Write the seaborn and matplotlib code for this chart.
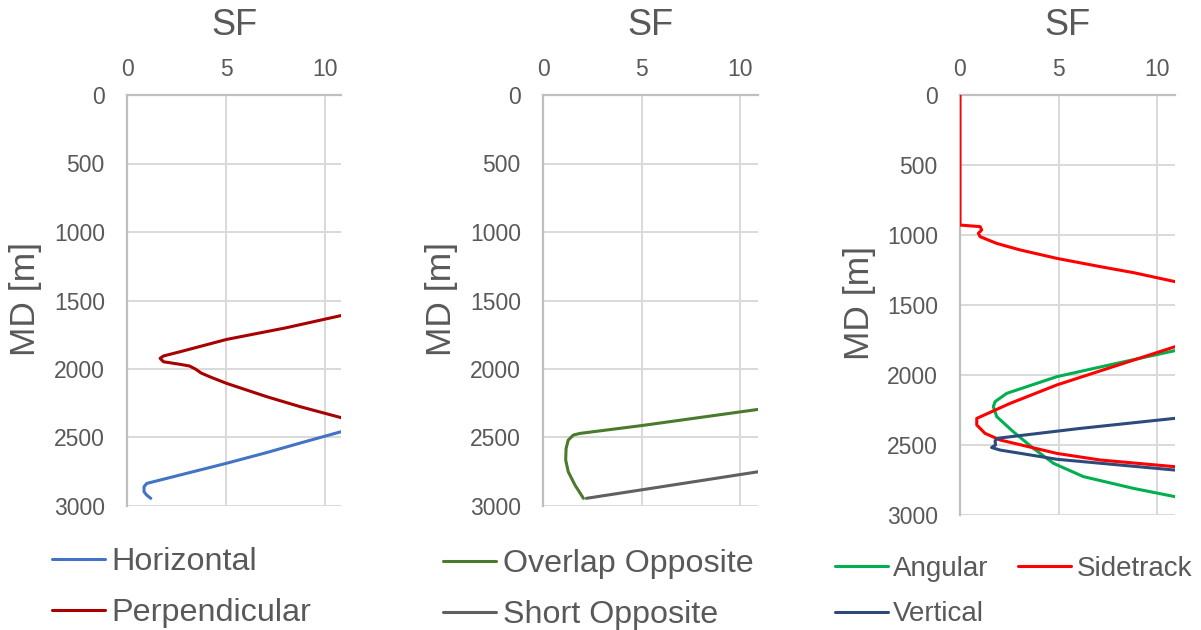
import matplotlib
matplotlib.use("Agg")
import matplotlib.pyplot as plt
import seaborn as sns

# ---- Safety factor (SF) versus measured depth (MD) per well-pair scenario ----
# Horizontal
horizontal_sf = [11.0, 9.0, 7.0, 5.0, 3.0, 1.33, 1.0, 0.86, 0.86, 0.99, 1.2]
horizontal_md = [2450, 2530, 2612, 2689, 2762, 2823, 2835, 2859, 2896, 2920, 2944]
# Perpendicular
perpendicular_sf = [11.0, 10.93, 8.0, 5.03, 2.68, 1.84, 1.67, 1.84, 2.68, 3.15,
                    3.45, 3.75, 4.2, 5.03, 7.05, 8.74, 10.93, 11.0]
perpendicular_md = [1603, 1606, 1700, 1784, 1874, 1905, 1922, 1947, 1966, 1978,
                    2000, 2030, 2058, 2105, 2202, 2275, 2360, 2364]
# Overlap Opposite
overlap_sf = [11.0, 5.0, 1.88, 1.54, 1.28, 1.17, 1.15, 1.28, 1.62, 2.05]
overlap_md = [2293, 2413, 2470, 2482, 2519, 2580, 2664, 2750, 2847, 2944]
# Short Opposite
short_sf = [2.2, 5.0, 8.0, 11.0]
short_md = [2944, 2882, 2815, 2748]
# Angular
angular_sf = [11.0, 10.9, 8.0, 4.91, 2.37, 1.78, 1.69, 1.86, 2.7, 3.72, 4.74,
              6.26, 8.8, 10.9, 11.0]
angular_md = [1823, 1826, 1915, 2012, 2131, 2190, 2226, 2297, 2405, 2524, 2631,
              2726, 2810, 2869, 2872]
# Sidetrack (leaves the plotted SF range between about 1340 m and 1790 m)
sidetrack_upper_sf = [0.0, 0.0, 1.02, 1.1, 0.93, 1.02, 1.86, 3.0, 4.91, 7.11,
                      8.8, 10.9, 11.2]
sidetrack_upper_md = [0, 929, 940, 964, 988, 1012, 1060, 1105, 1167, 1226,
                      1269, 1333, 1340]
sidetrack_lower_sf = [11.2, 10.9, 8.0, 4.91, 2.5, 0.85, 0.85, 1.27, 2.03, 4.91,
                      7.1, 10.9, 11.2]
sidetrack_lower_md = [1790, 1798, 1930, 2071, 2205, 2310, 2357, 2417, 2464,
                      2560, 2607, 2655, 2660]
# Vertical
vertical_sf = [11.0, 6.0, 1.9, 1.78, 1.8, 1.6, 2.03, 4.91, 10.9, 11.0]
vertical_md = [2308, 2383, 2452, 2470, 2500, 2518, 2536, 2602, 2679, 2681]

md_ticks = [0, 500, 1000, 1500, 2000, 2500, 3000]
sf_ticks = [0, 5, 10]

sns.set_theme(style="white")
plt.rcParams["font.family"] = ["Liberation Sans", "DejaVu Sans"]

TEXT = "#595959"
GRID = "#D9D9D9"
AXIS = "#BFBFBF"
LW = 2.2

W, H = 1201, 630
fig = plt.figure(figsize=(W / 100, H / 100), dpi=100)


def make_axes(left, top, right, bottom):
    ax = fig.add_axes([left / W, 1 - bottom / H, (right - left) / W, (bottom - top) / H])
    return ax, right - left, bottom - top


def style(ax, w, h, xmax):
    ax.set_xlim(0, xmax)
    ax.set_ylim(3000, 0)
    ax.set_xticks(sf_ticks)
    ax.set_yticks(md_ticks)
    ax.xaxis.tick_top()
    ax.xaxis.set_label_position("top")
    ax.tick_params(axis="x", length=0, labelsize=16.5, colors=TEXT, pad=10)
    ax.tick_params(axis="y", length=0, labelsize=16.5, colors=TEXT, pad=16)
    ax.grid(True, color=GRID, lw=1.4)
    ax.set_axisbelow(True)
    for s in ("right", "bottom"):
        ax.spines[s].set_visible(False)
    for s in ("left", "top"):
        ax.spines[s].set_color(AXIS)
        ax.spines[s].set_linewidth(1.6)
    ax.set_xlabel("SF", fontsize=26, color=TEXT)
    ax.xaxis.label.set_va("bottom")
    ax.xaxis.set_label_coords(0.5, 1 + 52 / h)
    ax.set_ylabel("MD [m]", fontsize=25.5, color=TEXT, va="center")
    ax.yaxis.set_label_coords(-101 / w, 0.5 + 1.5 / h)


def line(ax, sf, md, color, label=None):
    sns.lineplot(x=sf, y=md, sort=False, estimator=None, ax=ax, color=color,
                 linewidth=LW, label=label, solid_capstyle="round", zorder=3)


def legend(ax, handles, labels, x, y, size, ncol=1, hl=1.76, colsp=1.0, sp=0.65):
    ax.legend(handles, labels, loc="upper left", bbox_to_anchor=(x / W, 1 - y / H),
              bbox_transform=fig.transFigure, frameon=False, fontsize=size,
              labelcolor=TEXT, handlelength=hl, handletextpad=0.2,
              labelspacing=sp, borderpad=0, borderaxespad=0, ncol=ncol,
              columnspacing=colsp)


# Panel 1
ax1, w1, h1 = make_axes(127, 95, 341, 506)
line(ax1, horizontal_sf, horizontal_md, "#4472C4", "Horizontal")
line(ax1, perpendicular_sf, perpendicular_md, "#A80000", "Perpendicular")
style(ax1, w1, h1, 10.8)
h, l = ax1.get_legend_handles_labels()
legend(ax1, h, l, 52, 547, 23.3, hl=1.65)

# Panel 2
ax2, w2, h2 = make_axes(543, 95, 758, 506)
line(ax2, overlap_sf, overlap_md, "#4A7A2C", "Overlap Opposite")
line(ax2, short_sf, short_md, "#606060", "Short Opposite")
style(ax2, w2, h2, 10.9)
h, l = ax2.get_legend_handles_labels()
legend(ax2, h, l, 443, 549, 23.2, hl=1.65)

# Panel 3
ax3, w3, h3 = make_axes(960, 95, 1175, 515)
line(ax3, angular_sf, angular_md, "#00B050", "Angular")
line(ax3, sidetrack_upper_sf, sidetrack_upper_md, "#FF0000", "Sidetrack")
line(ax3, sidetrack_lower_sf, sidetrack_lower_md, "#FF0000")
line(ax3, vertical_sf, vertical_md, "#2E4A7D", "Vertical")
style(ax3, w3, h3, 10.9)
h, l = ax3.get_legend_handles_labels()
order = [l.index("Angular"), l.index("Vertical"), l.index("Sidetrack")]
legend(ax3, [h[i] for i in order], [l[i] for i in order], 835, 556, 20,
       ncol=2, hl=1.9, colsp=1.05, sp=0.7)

fig.savefig("out.png", dpi=100)
